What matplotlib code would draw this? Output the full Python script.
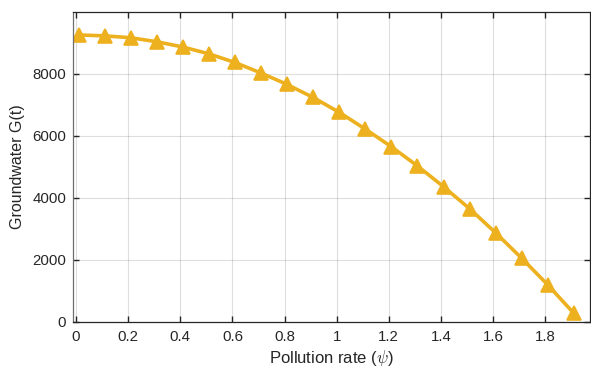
import matplotlib
matplotlib.use("Agg")
import matplotlib.pyplot as plt

# Pollution rate values and the resulting groundwater level
psi = [0.01, 0.11, 0.21, 0.31, 0.41, 0.51, 0.61, 0.71, 0.81, 0.91,
       1.01, 1.11, 1.21, 1.31, 1.41, 1.51, 1.61, 1.71, 1.81, 1.91]
groundwater = [9260, 9230, 9170, 9040, 8870, 8650, 8370, 8030, 7660, 7240,
               6760, 6220, 5650, 5030, 4360, 3650, 2870, 2050, 1190, 270]

x_ticks = [0, 0.2, 0.4, 0.6, 0.8, 1.0, 1.2, 1.4, 1.6, 1.8]
x_tick_labels = ["0", "0.2", "0.4", "0.6", "0.8", "1", "1.2", "1.4", "1.6", "1.8"]
y_ticks = [0, 2000, 4000, 6000, 8000]
y_tick_labels = ["0", "2000", "4000", "6000", "8000"]

plt.rcParams["font.family"] = ["Liberation Sans", "DejaVu Sans"]
plt.rcParams["mathtext.fontset"] = "cm"

ink = "#262626"
gold = "#EDB120"

fig = plt.figure(figsize=(5.91, 3.72), dpi=100)
ax = fig.add_axes([0.1235, 0.1352, 0.8748, 0.8325])

ax.plot(psi, groundwater, color=gold, linewidth=2.6, marker="^",
        markersize=9.5, markerfacecolor=gold, markeredgecolor=gold,
        markeredgewidth=1.2)

ax.set_xlim(-0.0115, 1.972)
ax.set_ylim(0, 10000)
ax.set_xticks(x_ticks)
ax.set_xticklabels(x_tick_labels)
ax.set_yticks(y_ticks)
ax.set_yticklabels(y_tick_labels)

ax.grid(True, color="#000000", alpha=0.13, linewidth=0.8)
ax.set_axisbelow(True)

ax.tick_params(direction="in", length=4, width=1, colors=ink,
               labelsize=10.8, top=True, right=True)
ax.tick_params(axis="x", pad=6)
ax.tick_params(axis="y", pad=5)
for s in ax.spines.values():
    s.set_color(ink)
    s.set_linewidth(0.9)
ax.spines["left"].set_color("#6e6e6e")

ax.set_xlabel(r"Pollution rate ($\psi$)", fontsize=12, color=ink, labelpad=3)
ax.set_ylabel("Groundwater G(t)", fontsize=11.5, color=ink, labelpad=5)

fig.savefig("out.png", dpi=100)
